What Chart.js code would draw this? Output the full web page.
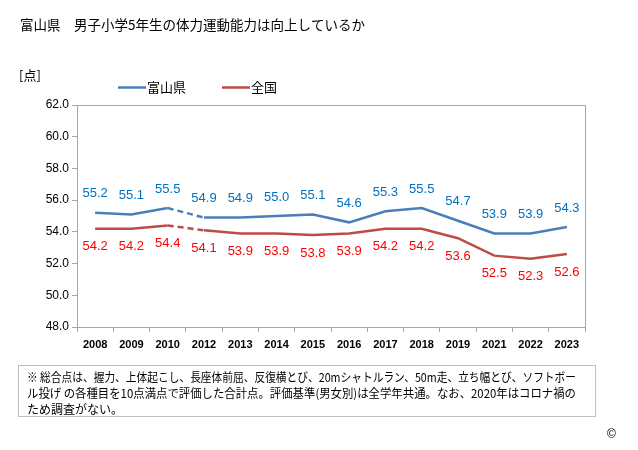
<!DOCTYPE html>
<html>
<head>
<meta charset="utf-8">
<script src="https://cdn.jsdelivr.net/npm/chart.js@4"></script>
<style>
  html, body { margin: 0; padding: 0; background: #fff; }
  #wrap { width: 638px; height: 450px; position: relative; }
</style>
</head>
<body>
<div id="wrap"><canvas id="chart" width="638" height="450"></canvas></div>
<script>
const years = ['2008', '2009', '2010', '2012', '2013', '2014', '2015', '2016', '2017', '2018', '2019', '2021', '2022', '2023'];
const toyama = [55.2, 55.1, 55.5, 54.9, 54.9, 55.0, 55.1, 54.6, 55.3, 55.5, 54.7, 53.9, 53.9, 54.3];
const national = [54.2, 54.2, 54.4, 54.1, 53.9, 53.9, 53.8, 53.9, 54.2, 54.2, 53.6, 52.5, 52.3, 52.6];
const yTicks = [48, 50, 52, 54, 56, 58, 60, 62];

const titleText = '富山県　男子小学5年生の体力運動能力は向上しているか';
const noteLines = [
    '※ 総合点は、握力、上体起こし、長座体前屈、反復横とび、20mシャトルラン、50m走、立ち幅とび、ソフトボー',
    'ル投げ の各種目を10点満点で評価した合計点。評価基準(男女別)は全学年共通。なお、2020年はコロナ禍の',
    'ため調査がない。'
];

const JP = '"Noto Sans CJK JP", sans-serif';
const NUM = '"Liberation Sans", Arial, sans-serif';
const gapIndex = 2; // 2010 -> 2012 (no 2011 survey)

// texts, legend, labels, frame
const decor = {
    id: 'decor',
    afterDatasetsDraw(chart) {
        const c = chart.ctx;
        const a = chart.chartArea;
        c.save();

        // right and top frame
        c.strokeStyle = '#a6a6a6';
        c.lineWidth = 1;
        c.beginPath();
        c.moveTo(a.left, a.top + 0.5);
        c.lineTo(a.right + 0.5, a.top + 0.5);
        c.lineTo(a.right + 0.5, a.bottom);
        c.stroke();

        // value labels
        c.font = '13px ' + NUM;
        c.textAlign = 'center';
        c.textBaseline = 'middle';
        chart.data.datasets.forEach((ds, i) => {
            const meta = chart.getDatasetMeta(i);
            c.fillStyle = i === 0 ? '#0070C0' : '#FF0000';
            meta.data.forEach((pt, j) => {
                const off = i === 0 ? -19 : 18;
                c.fillText(ds.data[j].toFixed(1), pt.x, pt.y + off);
            });
        });

        // title
        c.textAlign = 'left';
        c.fillStyle = '#000';
        c.font = '13.5px ' + JP;
        c.fillText(titleText, 20, 25);

        // unit
        c.font = '13px ' + JP;
        c.fillText('[点]', 19, 75);

        // legend
        const items = [
            { x: 118, label: '富山県', color: '#4A7EBB' },
            { x: 222, label: '全国', color: '#BE4B48' }
        ];
        items.forEach(it => {
            c.strokeStyle = it.color;
            c.lineWidth = 2.5;
            c.beginPath();
            c.moveTo(it.x, 87.5);
            c.lineTo(it.x + 28, 87.5);
            c.stroke();
            c.fillStyle = '#000';
            c.fillText(it.label, it.x + 29, 87);
        });

        // note box
        c.strokeStyle = '#bfbfbf';
        c.lineWidth = 1;
        c.strokeRect(18.5, 365.5, 577, 51);
        c.fillStyle = '#000';
        c.font = '12px ' + JP;
        noteLines.forEach((ln, k) => {
            c.fillText(ln, 27, 377 + k * 16, k < 2 ? 549 : undefined);
        });

        c.font = '12px ' + NUM;
        c.fillText('©', 607, 435);
        c.restore();
    }
};

new Chart(document.getElementById('chart'), {
    type: 'line',
    data: {
        labels: years,
        datasets: [
            {
                label: '富山県',
                data: toyama,
                borderColor: '#4A7EBB',
                borderWidth: 2.5,
                pointRadius: 0,
                tension: 0,
                segment: { borderDash: ctx => ctx.p0DataIndex === gapIndex ? [6, 4] : undefined }
            },
            {
                label: '全国',
                data: national,
                borderColor: '#BE4B48',
                borderWidth: 2.5,
                pointRadius: 0,
                tension: 0,
                segment: { borderDash: ctx => ctx.p0DataIndex === gapIndex ? [6, 4] : undefined }
            }
        ]
    },
    options: {
        responsive: false,
        animation: false,
        layout: { padding: { left: 0, right: 53, top: 105, bottom: 93 } },
        plugins: {
            legend: { display: false },
            title: { display: false },
            tooltip: { enabled: false }
        },
        scales: {
            x: {
                offset: true,
                grid: { drawOnChartArea: false, drawTicks: true, tickLength: 5, color: '#a6a6a6', offset: true },
                border: { color: '#a6a6a6' },
                ticks: { color: '#000', font: { family: NUM, size: 11, weight: 'bold' }, padding: 6, maxRotation: 0, autoSkip: false },
                afterFit: s => { s.height = 30; }
            },
            y: {
                min: 48,
                max: 62,
                afterBuildTicks: s => { s.ticks = yTicks.map(v => ({ value: v })); },
                grid: { drawOnChartArea: false, drawTicks: true, tickLength: 5, color: '#a6a6a6' },
                border: { color: '#a6a6a6' },
                ticks: { color: '#000', font: { family: NUM, size: 12 }, padding: 3, callback: v => v.toFixed(1) },
                afterFit: s => { s.width = 77; }
            }
        }
    },
    plugins: [decor]
});
</script>
</body>
</html>
